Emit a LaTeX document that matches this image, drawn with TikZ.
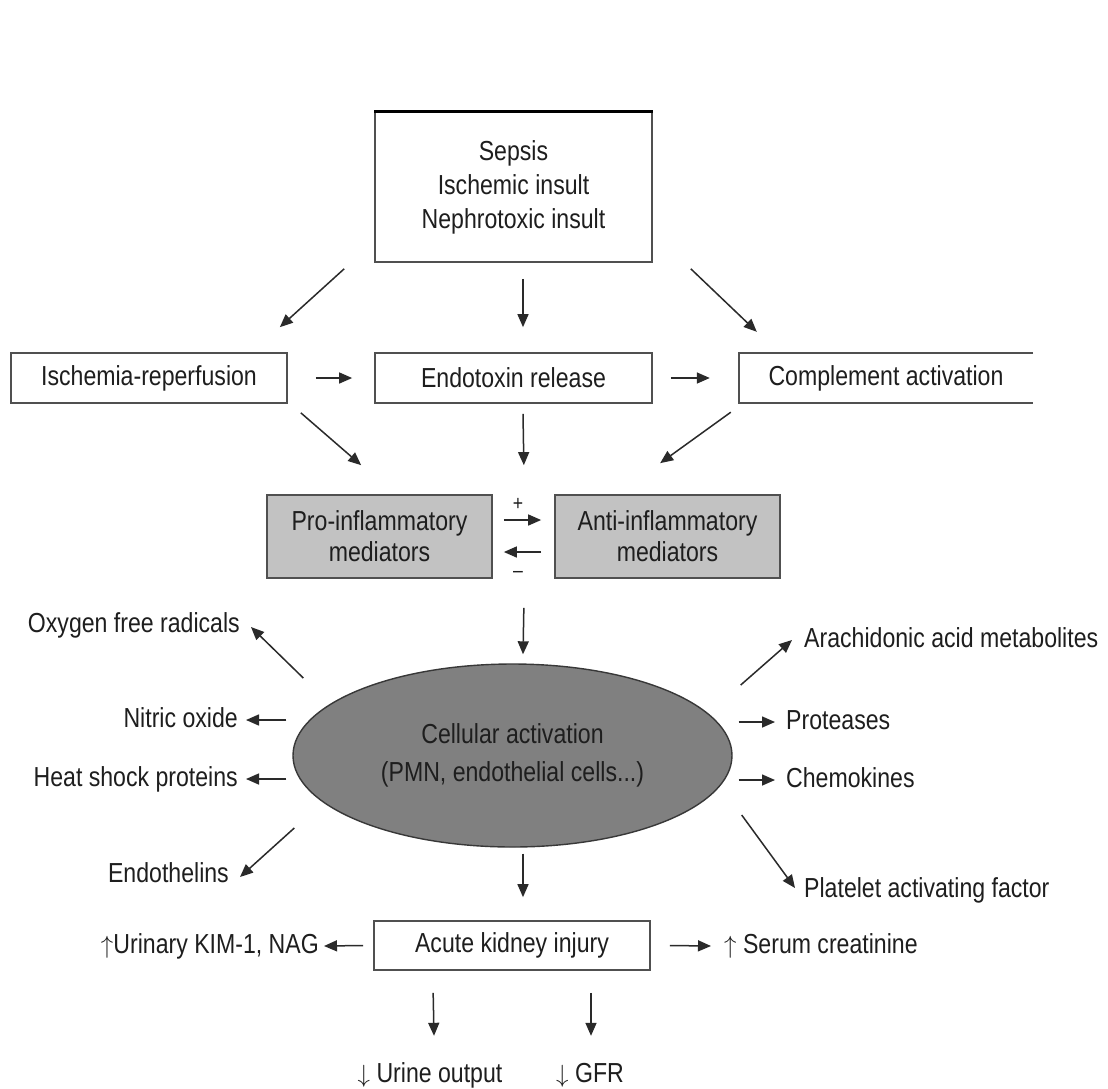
\documentclass[tikz,border=0pt]{standalone}
\usepackage{fontspec}
\setmainfont[FakeStretch=0.84]{Liberation Sans}
\usetikzlibrary{arrows.meta,shapes.geometric}
\definecolor{txt}{HTML}{1E1E1E}
\definecolor{edge}{HTML}{505050}
\definecolor{medfill}{HTML}{C2C2C2}
\definecolor{cellfill}{HTML}{808080}
\definecolor{arrc}{HTML}{2A2A2A}
\newcommand{\upar}{\ensuremath{\uparrow}}
\newcommand{\dnar}{\ensuremath{\downarrow}}
\begin{document}
\begin{tikzpicture}[x=1pt,y=-1pt,
  every node/.style={text=txt, font=\fontsize{27.5}{32}\selectfont},
  boxnode/.style={draw=edge, line width=1.7pt, inner sep=0pt},
  arr/.style={draw=arrc, line width=1.5pt, -{Triangle[length=13pt,width=11pt]}},
  lbl/.style={inner sep=0pt, text height=20pt, text depth=6pt},
]
\useasboundingbox[fill=white] (0,0) rectangle (1108,1088);

% boxes
\node[boxnode, minimum width=277pt, minimum height=150pt, align=center, font=\fontsize{27.5}{34}\selectfont] (sepsis) at (513.5,187) {Sepsis\\Ischemic insult\\Nephrotoxic insult};
\draw[black, line width=3pt] (sepsis.north west) -- (sepsis.north east);

\node[boxnode, minimum width=276pt, minimum height=50pt] (isch) at (149,378) {Ischemia-reperfusion};
\node[boxnode, minimum width=277pt, minimum height=50pt] (endo) at (513.5,378) {Endotoxin release};
\node[inner sep=0pt, minimum width=294pt, minimum height=50pt] (comp) at (886,378) {Complement activation};
\draw[edge, line width=1.7pt] (comp.north east) -- (comp.north west) -- (comp.south west) -- (comp.south east);

\node[boxnode, fill=medfill, minimum width=225pt, minimum height=83pt, align=center, font=\fontsize{27.5}{31}\selectfont] (pro) at (379.5,536.5) {Pro-inflammatory\\mediators};
\node[boxnode, fill=medfill, minimum width=225pt, minimum height=83pt, align=center, font=\fontsize{27.5}{31}\selectfont] (anti) at (667.5,536.5) {Anti-inflammatory\\mediators};
\node[lbl, font=\fontsize{21}{22}\selectfont, text height=14pt, text depth=0pt] (plus) at (518,503) {+};
\node[lbl, font=\fontsize{21}{22}\selectfont, text height=14pt, text depth=0pt] (minus) at (518,570) {–};

\node[ellipse, draw=edge!70!black, line width=1.4pt, fill=cellfill, minimum width=439pt, minimum height=183pt, inner sep=0pt, align=center, font=\fontsize{27.5}{38}\selectfont] (cell) at (512.5,755.5) {Cellular activation\\(PMN, endothelial cells...)};

\node[boxnode, minimum width=276pt, minimum height=49pt] (aki) at (512,945.5) {Acute kidney injury};

% side labels
\node[lbl, anchor=east] (oxy) at (240,625) {Oxygen free radicals};
\node[lbl, anchor=east] (nitric) at (238,720) {Nitric oxide};
\node[lbl, anchor=east] (heat) at (238,779) {Heat shock proteins};
\node[lbl, anchor=east] (endoth) at (229,875) {Endothelins};
\node[lbl, anchor=west] (arach) at (804,640) {Arachidonic acid metabolites};
\node[lbl, anchor=west] (prot) at (786,722) {Proteases};
\node[lbl, anchor=west] (chem) at (786,780) {Chemokines};
\node[lbl, anchor=west] (plat) at (804,890) {Platelet activating factor};
\node[lbl, anchor=east] (urin) at (319,946) {\upar Urinary KIM-1, NAG};
\node[lbl, anchor=west] (serum) at (724,946) {\upar\ Serum creatinine};
\node[lbl] (uo) at (430,1075) {\dnar\ Urine output};
\node[lbl] (gfr) at (590,1075) {\dnar\ GFR};

% arrows from sepsis
\draw[arr] ([xshift=-30pt,yshift=-6pt]sepsis.south west) -- ([xshift=-8pt,yshift=25pt]isch.north east);
\draw[arr] ([xshift=9.5pt,yshift=-16pt]sepsis.south) -- ([xshift=9.5pt,yshift=25pt]endo.north);
\draw[arr] ([xshift=38pt,yshift=-6pt]sepsis.south east) -- ([xshift=18pt,yshift=21pt]comp.north west);
% row 2
\draw[arr] ([xshift=28pt]isch.east) -- ([xshift=-22pt]endo.west);
\draw[arr] ([xshift=18pt]endo.east) -- ([xshift=-29pt]comp.west);
\draw[arr] ([xshift=13pt,yshift=-9pt]isch.south east) -- ([xshift=95pt,yshift=29pt]pro.north west);
\draw[arr] ([xshift=9.5pt,yshift=-10pt]endo.south) -- ([xshift=31pt,yshift=29pt]pro.north east);
\draw[arr] ([xshift=-8pt,yshift=-9pt]comp.south west) -- ([xshift=106pt,yshift=31pt]anti.north west);
% mediators
\draw[arr] ([xshift=11pt,yshift=16.5pt]pro.east) -- ([xshift=-13pt,yshift=16.5pt]anti.west);
\draw[arr] ([xshift=-13pt,yshift=-15.5pt]anti.west) -- ([xshift=11pt,yshift=-15.5pt]pro.east);
\draw[arr] ([xshift=31pt,yshift=-29pt]pro.south east) -- ([xshift=10.5pt,yshift=9pt]cell.north);
% ellipse outputs
\draw[arr] ([xshift=11pt,yshift=77.5pt]cell.west) -- ([xshift=11pt,yshift=-2pt]oxy.east);
\draw[arr] ([xshift=-6pt,yshift=35.5pt]cell.west) -- ([xshift=8pt]nitric.east);
\draw[arr] ([xshift=-6pt,yshift=-23.5pt]cell.west) -- ([xshift=8pt]heat.east);
\draw[arr] ([xshift=2pt,yshift=-72.5pt]cell.west) -- ([xshift=11pt,yshift=-2pt]endoth.east);
\draw[arr] ([xshift=8pt,yshift=70.5pt]cell.east) -- ([xshift=-12pt]arach.west);
\draw[arr] ([xshift=6pt,yshift=33.5pt]cell.east) -- ([xshift=-11pt]prot.west);
\draw[arr] ([xshift=6pt,yshift=-24.5pt]cell.east) -- ([xshift=-11pt]chem.west);
\draw[arr] ([xshift=9pt,yshift=-59.5pt]cell.east) -- ([xshift=-9pt,yshift=2pt]plat.west);
\draw[arr] ([xshift=10.5pt,yshift=-6pt]cell.south) -- ([xshift=11pt,yshift=23pt]aki.north);
% AKI outputs
\draw[arr] ([xshift=-10pt]aki.west) -- ([xshift=5pt]urin.east);
\draw[arr] ([xshift=19pt]aki.east) -- ([xshift=-13pt]serum.west);
\draw[arr] ([xshift=60pt,yshift=-22pt]aki.south west) -- ([xshift=4pt,yshift=26pt]uo.north);
\draw[arr] ([xshift=79pt,yshift=-22pt]aki.south) -- ([xshift=1pt,yshift=26pt]gfr.north);
\end{tikzpicture}
\end{document}
